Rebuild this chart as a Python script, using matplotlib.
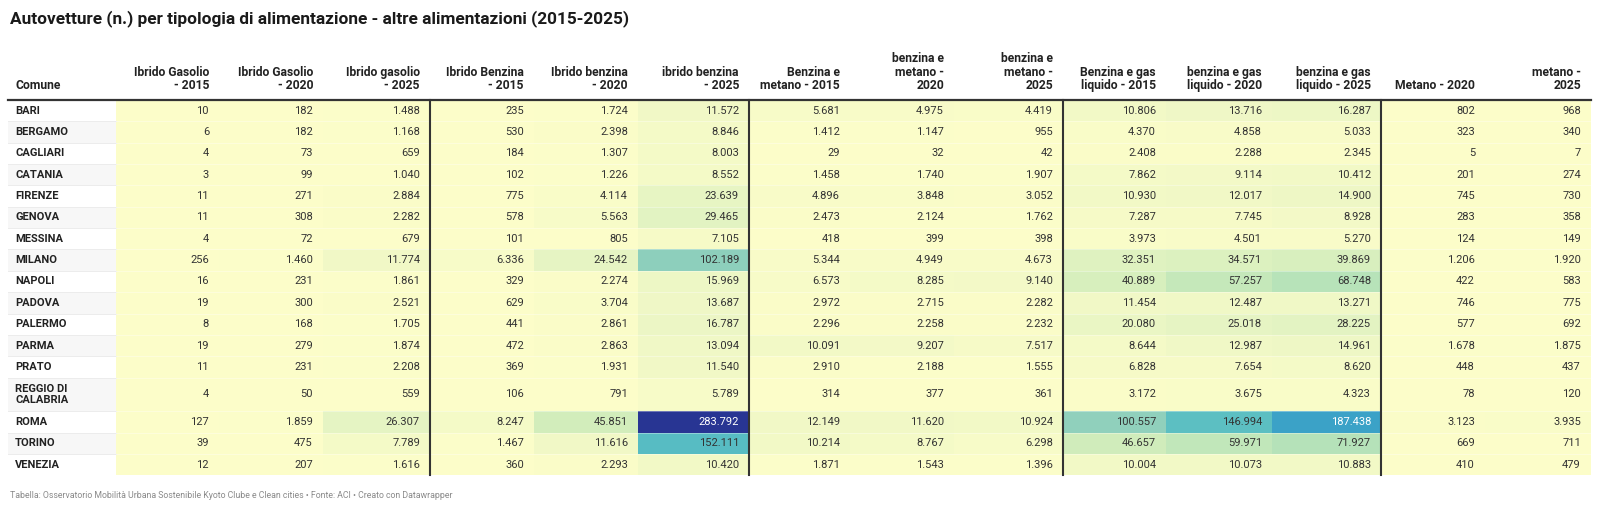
import matplotlib
matplotlib.use("Agg")
import matplotlib.pyplot as plt
import numpy as np
from matplotlib.colors import LinearSegmentedColormap, Normalize

plt.rcParams['font.family'] = ['Roboto', 'DejaVu Sans']

# data
comuni = ['BARI', 'BERGAMO', 'CAGLIARI', 'CATANIA', 'FIRENZE', 'GENOVA', 'MESSINA',
          'MILANO', 'NAPOLI', 'PADOVA', 'PALERMO', 'PARMA', 'PRATO',
          'REGGIO DI\nCALABRIA', 'ROMA', 'TORINO', 'VENEZIA']

headers = ['Ibrido Gasolio\n- 2015', 'Ibrido Gasolio\n- 2020', 'Ibrido gasolio\n- 2025',
           'Ibrido Benzina\n- 2015', 'Ibrido benzina\n- 2020', 'ibrido benzina\n- 2025',
           'Benzina e\nmetano - 2015', 'benzina e\nmetano -\n2020', 'benzina e\nmetano -\n2025',
           'Benzina e gas\nliquido - 2015', 'benzina e gas\nliquido - 2020', 'benzina e gas\nliquido - 2025',
           'Metano - 2020', 'metano -\n2025']

ibrido_gasolio_2015 = [10, 6, 4, 3, 11, 11, 4, 256, 16, 19, 8, 19, 11, 4, 127, 39, 12]
ibrido_gasolio_2020 = [182, 182, 73, 99, 271, 308, 72, 1460, 231, 300, 168, 279, 231, 50, 1859, 475, 207]
ibrido_gasolio_2025 = [1488, 1168, 659, 1040, 2884, 2282, 679, 11774, 1861, 2521, 1705, 1874, 2208, 559, 26307, 7789, 1616]
ibrido_benzina_2015 = [235, 530, 184, 102, 775, 578, 101, 6336, 329, 629, 441, 472, 369, 106, 8247, 1467, 360]
ibrido_benzina_2020 = [1724, 2398, 1307, 1226, 4114, 5563, 805, 24542, 2274, 3704, 2861, 2863, 1931, 791, 45851, 11616, 2293]
ibrido_benzina_2025 = [11572, 8846, 8003, 8552, 23639, 29465, 7105, 102189, 15969, 13687, 16787, 13094, 11540, 5789, 283792, 152111, 10420]
benzina_metano_2015 = [5681, 1412, 29, 1458, 4896, 2473, 418, 5344, 6573, 2972, 2296, 10091, 2910, 314, 12149, 10214, 1871]
benzina_metano_2020 = [4975, 1147, 32, 1740, 3848, 2124, 399, 4949, 8285, 2715, 2258, 9207, 2188, 377, 11620, 8767, 1543]
benzina_metano_2025 = [4419, 955, 42, 1907, 3052, 1762, 398, 4673, 9140, 2282, 2232, 7517, 1555, 361, 10924, 6298, 1396]
benzina_gpl_2015 = [10806, 4370, 2408, 7862, 10930, 7287, 3973, 32351, 40889, 11454, 20080, 8644, 6828, 3172, 100557, 46657, 10004]
benzina_gpl_2020 = [13716, 4858, 2288, 9114, 12017, 7745, 4501, 34571, 57257, 12487, 25018, 12987, 7654, 3675, 146994, 59971, 10073]
benzina_gpl_2025 = [16287, 5033, 2345, 10412, 14900, 8928, 5270, 39869, 68748, 13271, 28225, 14961, 8620, 4323, 187438, 71927, 10883]
metano_2020 = [802, 323, 5, 201, 745, 283, 124, 1206, 422, 746, 577, 1678, 448, 78, 3123, 669, 410]
metano_2025 = [968, 340, 7, 274, 730, 358, 149, 1920, 583, 775, 692, 1875, 437, 120, 3935, 711, 479]

values = np.array([ibrido_gasolio_2015, ibrido_gasolio_2020, ibrido_gasolio_2025,
                   ibrido_benzina_2015, ibrido_benzina_2020, ibrido_benzina_2025,
                   benzina_metano_2015, benzina_metano_2020, benzina_metano_2025,
                   benzina_gpl_2015, benzina_gpl_2020, benzina_gpl_2025,
                   metano_2020, metano_2025]).T

title = 'Autovetture (n.) per tipologia di alimentazione - altre alimentazioni (2015-2025)'
footer = ('Tabella: Osservatorio Mobilità Urbana Sostenibile Kyoto Clube e Clean cities'
          ' \u2022 Fonte: ACI \u2022 Creato con Datawrapper')

# layout (pixels)
W, H = 1600, 509
fig = plt.figure(figsize=(W / 100, H / 100), dpi=100)
ax = fig.add_axes([0, 0, 1, 1])
ax.set_xlim(0, W)
ax.set_ylim(H, 0)
ax.axis('off')

table_left = 8
col_edges = np.array([116, 219, 323, 430, 534, 638, 749, 850, 954, 1063, 1166, 1272, 1381, 1485, 1591])
group_lines = [430, 749, 1063, 1381]
pad = 10
top = 100
row_h = 21.35
heights = [row_h] * len(comuni)
heights[13] = 33.8
row_edges = np.concatenate([[top], top + np.cumsum(heights)])
bottom = row_edges[-1]

cmap = LinearSegmentedColormap.from_list('dw', [
    (0.0, '#fcfdc9'), (0.04, '#f1f8c6'), (0.09, '#e5f4c3'), (0.16, '#d2edbb'),
    (0.25, '#b5e2b9'), (0.355, '#8fd0bc'), (0.52, '#5bbfc2'), (0.66, '#3ba3c7'),
    (0.82, '#2d6fb0'), (1.0, '#283593')])
norm = Normalize(0, values.max())

ax.pcolormesh(col_edges, row_edges, values, cmap=cmap, norm=norm, zorder=1)

# striped city column
for i in range(len(comuni)):
    if i % 2 == 1:
        ax.add_patch(plt.Rectangle((table_left, row_edges[i]), col_edges[0] - table_left,
                                   heights[i], color='#f7f7f7', lw=0, zorder=1))

# faint row separators
for y in row_edges[1:-1]:
    ax.plot([table_left, col_edges[0]], [y, y], color='#ececec', lw=0.7, zorder=2)
    ax.plot([col_edges[0], col_edges[-1]], [y, y], color='white', alpha=0.35, lw=0.7, zorder=2)

# thick lines
ax.plot([table_left, col_edges[-1]], [top, top], color='#333333', lw=1.6, zorder=3)
for x in group_lines:
    ax.plot([x, x], [top, bottom], color='#333333', lw=1.5, zorder=3)

# headers
hfs = 8.7
ax.text(15, 92, 'Comune', ha='left', va='bottom', fontsize=hfs, fontweight='bold',
        color='#222222', linespacing=1.05)
for j, h in enumerate(headers):
    ax.text(col_edges[j + 1] - pad, 92, h, ha='right', va='bottom', fontsize=hfs,
            fontweight='bold', color='#222222', linespacing=1.05, multialignment='right')

# cells
fs = 8
for i, name in enumerate(comuni):
    yc = (row_edges[i] + row_edges[i + 1]) / 2
    ax.text(15, yc, name, ha='left', va='center', fontsize=fs, fontweight='bold',
            color='#222222', linespacing=1.2)
    for j in range(values.shape[1]):
        v = values[i, j]
        r, g, b, _ = cmap(norm(v))
        lum = 0.299 * r + 0.587 * g + 0.114 * b
        txt = f'{v:,}'.replace(',', '.')
        ax.text(col_edges[j + 1] - pad, yc, txt, ha='right', va='center', fontsize=fs,
                color='white' if lum < 0.6 else '#333333', zorder=4)

ax.text(10, 19, title, ha='left', va='center', fontsize=12.4, fontweight='bold', color='#1a1a1a')
ax.text(10, 496, footer, ha='left', va='center', fontsize=6.3, color='#8a8a8a')

fig.savefig('out.png', dpi=100)
